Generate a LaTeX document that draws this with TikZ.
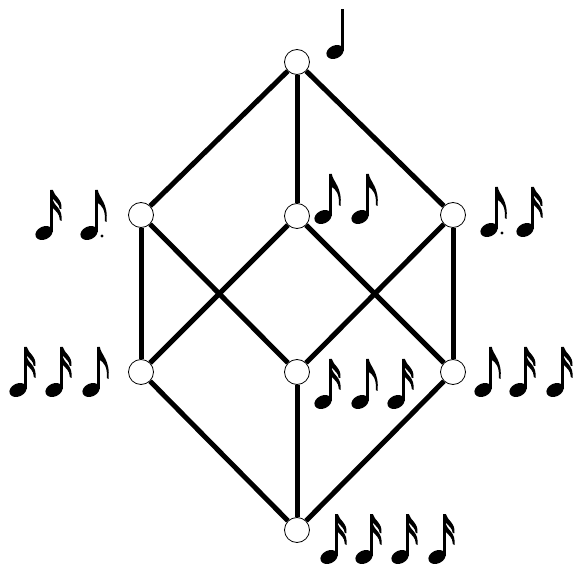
\documentclass[tikz,border=0pt]{standalone}
\usetikzlibrary{backgrounds}
\begin{document}
\begin{tikzpicture}[x=1pt,y=-1pt,
  vtx/.style={circle,draw=black,line width=0.8pt,fill=white,minimum size=25pt,inner sep=0pt},
  edge/.style={line width=5pt},
  pics/nhead/.style={code={
    \fill[rotate=25] (0,0) ellipse (9 and 6.5);
    \fill (6.3,-1) rectangle (8.8,-43);
  }},
  pics/quarter/.style={code={\pic {nhead};}},
  pics/eighth/.style={code={
    \pic {nhead};
    \fill (6.3,-43) -- (8.8,-43) .. controls (10,-35) and (19.5,-30) .. (17.5,-11)
      -- (15.8,-12) .. controls (16.8,-23) and (12.5,-28) .. (8.8,-30) -- (6.3,-30) -- cycle;
  }},
  pics/sixteenth/.style={code={
    \pic {nhead};
    \fill (6.3,-43) -- (8.8,-43) .. controls (10,-37) and (18.5,-34) .. (17.5,-24)
      -- (15.8,-24) .. controls (15.3,-29) and (11.5,-31) .. (8.8,-34.5) -- cycle;
    \fill (8.8,-33) .. controls (10,-27) and (19,-25) .. (17.5,-12)
      -- (15.8,-13) .. controls (15.8,-19.5) and (11.5,-22) .. (8.8,-25) -- cycle;
  }},
  pics/deighth/.style={code={
    \pic {eighth};
    \fill (13,3) circle (1.7);
  }}
]
\useasboundingbox (0,0) rectangle (574,567);
\node[vtx] (T) at (297,62) {};
\node[vtx] (L) at (141,215) {};
\node[vtx] (M) at (297,216) {};
\node[vtx] (R) at (453,215) {};
\node[vtx] (LL) at (141,372) {};
\node[vtx] (LM) at (297,372) {};
\node[vtx] (LR) at (453,372) {};
\node[vtx] (B) at (297,530) {};
\begin{scope}[on background layer]
\draw[edge] (T) -- (L);
\draw[edge] (T) -- (M);
\draw[edge] (T) -- (R);
\draw[edge] (L) -- (LL);
\draw[edge] (L) -- (LM);
\draw[edge] (M) -- (LL);
\draw[edge] (M) -- (LR);
\draw[edge] (R) -- (LM);
\draw[edge] (R) -- (LR);
\draw[edge] (LL) -- (B);
\draw[edge] (LM) -- (B);
\draw[edge] (LR) -- (B);
\end{scope}
% notes
\pic at (335,52) {quarter};
\pic at (44,233) {sixteenth};
\pic at (89,233) {deighth};
\pic at (323,217) {eighth};
\pic at (360,217) {eighth};
\pic at (489,230) {deighth};
\pic at (525,230) {sixteenth};
\pic at (18,390) {sixteenth};
\pic at (54,390) {sixteenth};
\pic at (91,390) {eighth};
\pic at (323,402) {sixteenth};
\pic at (360,402) {eighth};
\pic at (396,402) {sixteenth};
\pic at (483,390) {eighth};
\pic at (518,390) {sixteenth};
\pic at (555,390) {sixteenth};
\pic at (329,557) {sixteenth};
\pic at (364,557) {sixteenth};
\pic at (400,557) {sixteenth};
\pic at (437,557) {sixteenth};
\end{tikzpicture}
\end{document}
